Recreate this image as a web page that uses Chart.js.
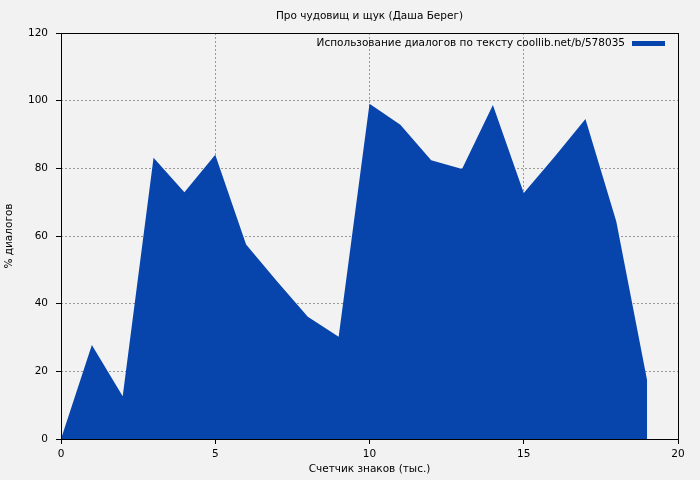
<!DOCTYPE html>
<html>
<head>
<meta charset="utf-8">
<script src="https://cdn.jsdelivr.net/npm/chart.js@4/dist/chart.umd.min.js"></script>
<style>
  html, body { margin: 0; padding: 0; background: #f2f2f2; }
  #wrap { width: 700px; height: 480px; }
</style>
</head>
<body>
<div id="wrap"><canvas id="areaChart" width="700" height="480"></canvas></div>
<script>
// thousands of characters read
const positions = [0, 1, 2, 3, 4, 5, 6, 7, 8, 9, 10, 11, 12, 13, 14, 15, 16, 17, 18, 19, 19];
// % of dialogue per segment (last point closes the area down to the axis)
const dialogPct = [0, 27.8, 12.6, 83.1, 72.9, 84.0, 57.5, 46.6, 36.1, 30.2, 99.1, 92.9, 82.4, 79.8, 98.7, 72.7, 83.4, 94.6, 64.3, 17.3, 0];
const xTicks = [0, 5, 10, 15, 20];
const yTicks = [0, 20, 40, 60, 80, 100, 120];

const titleText = "Про чудовищ и щук (Даша Берег)";
const legendText = "Использование диалогов по тексту coollib.net/b/578035";
const fillColor = "#0745ad";
const fontName = "'DejaVu Sans', sans-serif";
const fontSize = 10.5;

const points = positions.map((x, i) => ({ x: x, y: dialogPct[i] }));

// title, legend and frame drawn on top of the chart
const decorations = {
    id: "decorations",
    afterDraw(chart) {
        const { ctx, chartArea: a } = chart;
        ctx.save();
        ctx.fillStyle = "#000";
        ctx.font = fontSize + "px " + fontName;
        ctx.textAlign = "center";
        ctx.textBaseline = "middle";
        ctx.fillText(titleText, (a.left + a.right) / 2, 16);

        ctx.textAlign = "right";
        ctx.fillText(legendText, a.right - 53, a.top + 10);
        ctx.fillStyle = fillColor;
        ctx.fillRect(a.right - 46, a.top + 8, 33, 5);

        ctx.strokeStyle = "#000";
        ctx.lineWidth = 1;
        ctx.strokeRect(Math.round(a.left) + 0.5, Math.round(a.top) + 0.5,
            Math.round(a.right - a.left), Math.round(a.bottom - a.top));
        ctx.restore();
    }
};

const gridOpts = {
    color: "#999",
    tickColor: "#000",
    tickLength: 5,
    tickBorderDash: []
};

const ctx = document.getElementById("areaChart").getContext("2d");
new Chart(ctx, {
    type: "line",
    data: {
        datasets: [{
            label: legendText,
            data: points,
            fill: "origin",
            backgroundColor: fillColor,
            borderWidth: 0,
            pointRadius: 0,
            tension: 0
        }]
    },
    options: {
        responsive: false,
        animation: false,
        layout: { padding: { left: 0, right: 22, top: 33, bottom: 0 } },
        plugins: {
            legend: { display: false },
            tooltip: { enabled: false }
        },
        scales: {
            x: {
                type: "linear",
                min: xTicks[0],
                max: xTicks[xTicks.length - 1],
                afterBuildTicks: s => { s.ticks = xTicks.map(v => ({ value: v })); },
                afterFit: s => { s.height = 41; },
                grid: gridOpts,
                border: { display: false, dash: [2, 2] },
                ticks: { color: "#000", font: { family: fontName, size: fontSize }, padding: 4, maxRotation: 0 },
                title: {
                    display: true,
                    text: "Счетчик знаков (тыс.)",
                    color: "#000",
                    font: { family: fontName, size: fontSize },
                    padding: { top: 4, bottom: 4 }
                }
            },
            y: {
                min: yTicks[0],
                max: yTicks[yTicks.length - 1],
                afterBuildTicks: s => { s.ticks = yTicks.map(v => ({ value: v })); },
                afterFit: s => { s.width = 61; },
                grid: gridOpts,
                border: { display: false, dash: [2, 2] },
                ticks: { color: "#000", font: { family: fontName, size: fontSize }, padding: 8 },
                title: {
                    display: true,
                    text: "% диалогов",
                    color: "#000",
                    font: { family: fontName, size: fontSize },
                    padding: { top: 3, bottom: 0 }
                }
            }
        }
    },
    plugins: [decorations]
});
</script>
</body>
</html>
